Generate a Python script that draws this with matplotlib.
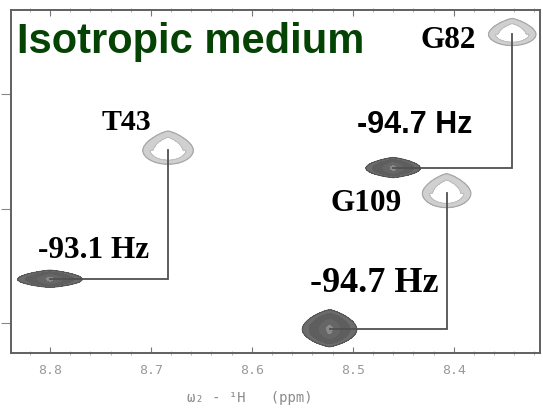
import numpy as np
import matplotlib
matplotlib.use("Agg")
import matplotlib.pyplot as plt

# ---- data (1H ppm, 15N ppm) ----
residues = ["G82", "T43", "G109"]
h_upper = [8.342, 8.683, 8.407]      # light (upper) component, 1H
n_upper = [117.476, 118.489, 118.865]
h_lower = [8.460, 8.800, 8.523]      # dark (lower) component, 1H
n_lower = [118.646, 119.616, 120.052]
couplings = ["-94.7 Hz", "-93.1 Hz", "-94.7 Hz"]
x_ticks = [8.8, 8.7, 8.6, 8.5, 8.4]
x_ticklabels = ["8.8", "8.7", "8.6", "8.5", "8.4"]
y_ticks = [118, 119, 120]
title_text = "Isotropic medium"

# peak half-extents (ppm) for drawing shapes
upper_hw = [(0.0235, 0.118), (0.025, 0.145), (0.024, 0.148)]
lower_hw = [(0.027, 0.088), (0.032, 0.075), (0.027, 0.162)]

W, H = 543, 408
fig = plt.figure(figsize=(W / 100, H / 100), dpi=100)
ax = fig.add_axes([11 / W, 1 - 353 / H, (540 - 11) / W, (353 - 10.4) / H])
ax.set_xlim(8.8386, 8.3145)
ax.set_ylim(120.26, 117.27)

gx = np.linspace(8.30, 8.85, 800)
gy = np.linspace(117.2, 120.3, 800)
GX, GY = np.meshgrid(gx, gy)


def field(cx, cy, hx, hy_top, hy_bot, p_top, p_bot, q_top, q_bot, level=0.18):
    s = -np.log(level)
    dy = GY - cy
    top = dy < 0
    p = np.where(top, p_top, p_bot)
    q = np.where(top, q_top, q_bot)
    wx = hx / s ** (1 / p)
    wy = np.where(top, hy_top, hy_bot) / s ** (1 / q)
    return np.exp(-(np.abs((GX - cx) / wx) ** p + np.abs(dy / wy) ** q))


# light (upper) peaks: ring outlines, pointed top
for cx, cy, (hx, hy) in zip(h_upper, n_upper, upper_hw):
    f = field(cx, cy, hx, hy * 1.15, hy * 0.85, 1.25, 2.0, 1.7, 2.0)
    ax.contourf(GX, GY, f, levels=[0.18, 0.42], colors=["#d0d0d0"], zorder=2)
    ax.contour(GX, GY, f, levels=[0.18, 0.42], colors=["#a8a8a8", "#bcbcbc"],
               linewidths=[0.9, 0.7], zorder=3)

# dark (lower) peaks: filled lenses with pointed ends
for cx, cy, (hx, hy) in zip(h_lower, n_lower, lower_hw):
    f = field(cx, cy, hx, hy * 1.05, hy * 0.95, 1.25, 1.25, 1.8, 2.0)
    ax.contourf(GX, GY, f, levels=[0.18, 0.3, 0.6, 0.9, 1.01],
                colors=["#6c6c6c", "#5e5e5e", "#666666", "#8a8a8a"], zorder=2)
    ax.contour(GX, GY, f, levels=[0.18], colors=["#555555"], linewidths=0.8, zorder=3)

# connecting lines
for hu, nu, hl, nl in zip(h_upper, n_upper, h_lower, n_lower):
    ax.plot([hl, hu, hu], [nl, nl, nu], color="#505050", lw=1.3, zorder=4,
            solid_joinstyle="miter")

# axes styling
for s in ax.spines.values():
    s.set_color("#606060")
    s.set_linewidth(1.4)
ax.set_xticks(x_ticks)
ax.set_xticklabels(x_ticklabels, family="DejaVu Sans Mono", fontsize=9.5, color="#9a9a9a")
ax.set_xticks(np.arange(8.82, 8.31, -0.02), minor=True)
ax.tick_params(axis="x", which="major", direction="in", length=4, color="#777777",
               pad=8, top=True, labeltop=False, bottom=True)
ax.tick_params(axis="x", which="minor", direction="inout", length=3, color="#aaaaaa",
               top=True, bottom=True)
ax.set_yticks(y_ticks)
ax.set_yticklabels([])
ax.tick_params(axis="y", direction="out", length=7, color="#888888", left=True, right=False)

fig.text(250 / W, 1 - 398 / H, "ω₂ - ¹H   (ppm)", family="DejaVu Sans Mono",
         fontsize=10, color="#8a8a8a", ha="center", va="center")

# annotations (pixel positions -> figure fraction)
def ftxt(x, y, s, **kw):
    fig.text(x / W, 1 - y / H, s, ha="left", va="baseline", **kw)

ftxt(17, 52.5, title_text, family="Liberation Sans", fontweight="bold",
     fontsize=30, color="#054305")
ftxt(421, 48.5, residues[0], family="Liberation Serif", fontweight="bold", fontsize=22.5)
ftxt(102, 130, residues[1], family="Liberation Serif", fontweight="bold", fontsize=21.5)
ftxt(331, 211, residues[2], family="Liberation Serif", fontweight="bold", fontsize=22.5)
ftxt(357, 133, couplings[0], family="Liberation Sans", fontweight="bold", fontsize=22)
ftxt(38, 258, couplings[1], family="Liberation Serif", fontweight="bold", fontsize=22.5)
ftxt(310, 292, couplings[2], family="Liberation Serif", fontweight="bold", fontsize=26)

fig.savefig("out.png", dpi=100)
